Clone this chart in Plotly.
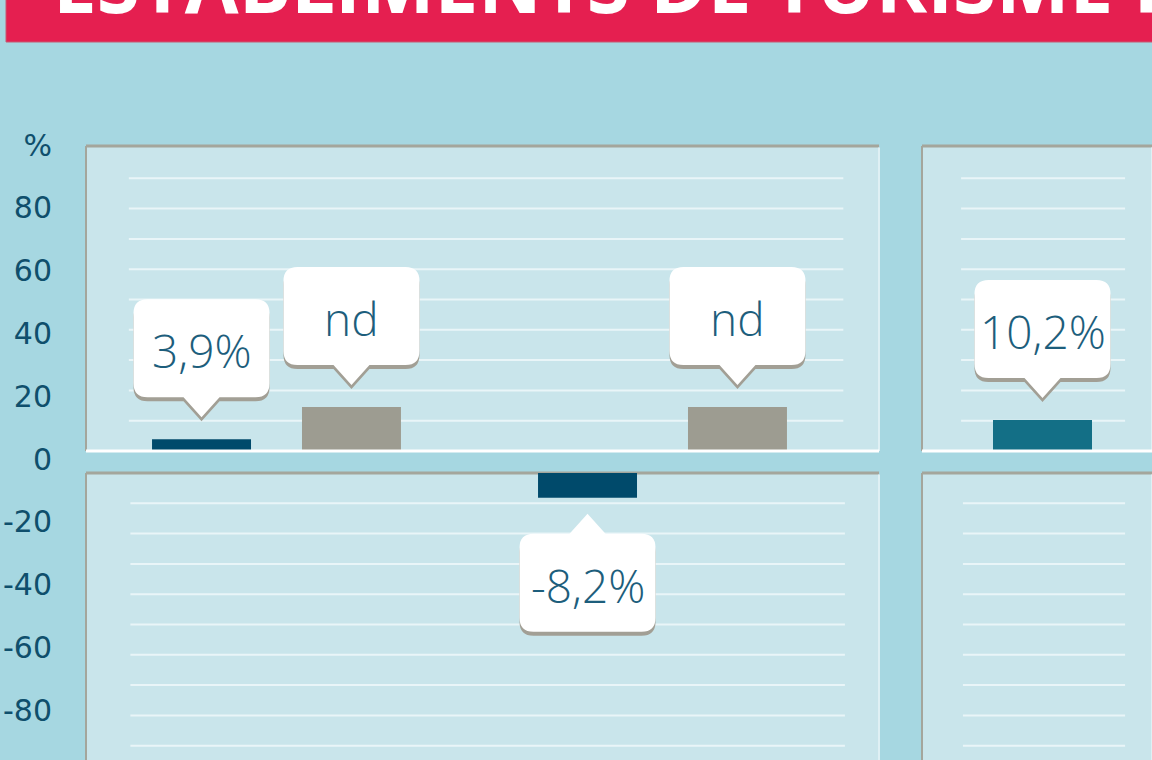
import plotly.graph_objects as go

W, H = 1152, 760

# ---------------- data ----------------
groups = ["Grup A", "Grup B"]
var_values = [3.9, -8.2]
var_labels = ["3,9%", "-8,2%"]
nd_values = [14.5, 14.5]          # placeholder bars for non-available data
nd_labels = ["nd", "nd"]
right_groups = ["Grup C"]
right_values = [10.2]
right_labels = ["10,2%"]
axis_tickvals = [-80, -60, -40, -20, 0, 20, 40, 60, 80, 100]
axis_ticktext = ["-80", "-60", "-40", "-20", "0", "20", "40", "60", "80", "%"]
grid_top = [10, 20, 30, 40, 50, 60, 70, 80, 90]
grid_bottom = [-10, -20, -30, -40, -50, -60, -70, -80, -90]
title_text = "ESTABLIMENTS DE TURISME RURAL"

# ---------------- style ----------------
PAPER = "#a6d7e1"
PANEL = "#c9e5eb"
GRID = "#e9f5f8"
BORDER = "#a4a69c"
DARK = "#004a6b"
GREY = "#9d9c91"
TEAL = "#136f86"
RED = "#e51f50"
TXT = "#0f4f6c"
CALLTXT = "#1d5e7c"
SHADOW = "#a29f95"

def px(v):
    return v / W

def py(v):
    return 1 - v / H

L0, L1 = 86, 879        # left panels
R0, R1 = 922, 1152      # right panels
T0, T1 = 146, 451       # top panels
B0, B1 = 473, 760       # bottom panels
SCALE = 3.03            # px per unit

BARGAP = 0.223
BARGROUPGAP = 0.34
off = (1 - BARGAP) / 4

left_px_unit = 386.0
left_start = -(201.5 + 75 - L0) / left_px_unit
left_range = [left_start, left_start + (L1 - L0) / left_px_unit]
rpu = 99 / ((1 - BARGAP) * (1 - BARGROUPGAP))
right_range = [-(1042.5 - R0) / rpu, (R1 - 1042.5) / rpu]

top_range = [0, (T1 - T0) / SCALE]
bot_range = [-(B1 - B0) / SCALE, 0]

fig = go.Figure()

for xa, ya in (("x", "y"), ("x3", "y3")):
    fig.add_trace(go.Bar(x=groups, y=var_values, marker=dict(color=DARK, line_width=0),
                         xaxis=xa, yaxis=ya, showlegend=False, hoverinfo="skip"))
    fig.add_trace(go.Bar(x=groups, y=nd_values, marker=dict(color=GREY, line_width=0),
                         xaxis=xa, yaxis=ya, showlegend=False, hoverinfo="skip"))
for xa, ya in (("x2", "y2"), ("x4", "y4")):
    fig.add_trace(go.Bar(x=right_groups, y=right_values, marker=dict(color=TEAL, line_width=0),
                         xaxis=xa, yaxis=ya, showlegend=False, hoverinfo="skip"))
# carrier for the label axis
fig.add_trace(go.Scatter(x=[None], y=[None], xaxis="x5", yaxis="y5", showlegend=False,
                         hoverinfo="skip"))

hidden = dict(visible=False, showgrid=False, zeroline=False, fixedrange=True)
fig.update_layout(
    width=W, height=H,
    margin=dict(l=0, r=0, t=0, b=0),
    paper_bgcolor=PAPER, plot_bgcolor="rgba(0,0,0,0)",
    barmode="group", bargap=BARGAP, bargroupgap=BARGROUPGAP,
    xaxis=dict(hidden, domain=[px(L0), px(L1)], anchor="y", type="category", range=left_range),
    yaxis=dict(hidden, domain=[py(T1), py(T0)], anchor="x", range=top_range),
    xaxis2=dict(hidden, domain=[px(R0), px(R1)], anchor="y2", type="category", range=right_range),
    yaxis2=dict(hidden, domain=[py(T1), py(T0)], anchor="x2", range=top_range),
    xaxis3=dict(hidden, domain=[px(L0), px(L1)], anchor="y3", type="category", range=left_range),
    yaxis3=dict(hidden, domain=[py(B1), py(B0)], anchor="x3", range=bot_range),
    xaxis4=dict(hidden, domain=[px(R0), px(R1)], anchor="y4", type="category", range=right_range),
    yaxis4=dict(hidden, domain=[py(B1), py(B0)], anchor="x4", range=bot_range),
    xaxis5=dict(hidden, domain=[px(53), px(57)], anchor="y5", range=[0, 1]),
    yaxis5=dict(domain=[0, 1], anchor="x5", side="left", showgrid=False, zeroline=False,
                showline=False, ticks="", fixedrange=True,
                range=[-(H - 459) / 3.14, 459 / 3.14],
                tickmode="array", tickvals=axis_tickvals, ticktext=axis_ticktext,
                tickfont=dict(family="DejaVu Sans", size=30, color=TXT)),
    font=dict(family="Open Sans"),
)

shapes = []
# title bar
shapes.append(dict(type="rect", xref="paper", yref="paper", x0=px(6), x1=1.02, y0=py(42), y1=1.02,
                   fillcolor=RED, line=dict(color="#c55a72", width=1), layer="below"))

panels = [("x", "y", True), ("x2", "y2", True), ("x3", "y3", False), ("x4", "y4", False)]
grid_x = {"x": (0.054, 0.955), "x3": (0.056, 0.957), "x2": (0.17, 0.883), "x4": (0.178, 0.883)}
for xa, ya, is_top in panels:
    xd, yd = xa + " domain", ya + " domain"
    shapes.append(dict(type="rect", xref=xd, yref=yd, x0=0, x1=1, y0=0, y1=1,
                       fillcolor=PANEL, line_width=0, layer="below"))
    gx0, gx1 = grid_x[xa]
    for g in (grid_top if is_top else grid_bottom):
        shapes.append(dict(type="line", xref=xd, yref=ya, x0=gx0, x1=gx1, y0=g, y1=g,
                           line=dict(color=GRID, width=2), layer="below"))
    # borders
    shapes.append(dict(type="line", xref=xd, yref=yd, x0=0, x1=1, y0=1, y1=1,
                       line=dict(color=BORDER, width=3), layer="below"))
    shapes.append(dict(type="line", xref=xd, yref=yd, x0=0, x1=0, y0=0, y1=1,
                       line=dict(color=BORDER, width=2), layer="below"))
    shapes.append(dict(type="line", xref=xd, yref=yd, x0=1, x1=1, y0=0, y1=0.995,
                       line=dict(color="#dff0f4", width=2), layer="below"))
    if is_top:
        shapes.append(dict(type="line", xref=xd, yref=yd, x0=0, x1=1, y0=0, y1=0,
                           line=dict(color="#ffffff", width=3), layer="above"))


def callout_path(up, gap, dy=0, w=136, h=98, p=20, b=36, r=14):
    s = 1 if up else -1
    y_base = gap + p
    y_top = gap + p + h
    pts = []
    def Y(v):
        return s * v + dy
    pts.append(f"M0,{Y(gap)}")
    pts.append(f"L{-b/2},{Y(y_base)}")
    pts.append(f"L{-w/2 + r},{Y(y_base)}")
    pts.append(f"Q{-w/2},{Y(y_base)} {-w/2},{Y(y_base + r)}")
    pts.append(f"L{-w/2},{Y(y_top - r)}")
    pts.append(f"Q{-w/2},{Y(y_top)} {-w/2 + r},{Y(y_top)}")
    pts.append(f"L{w/2 - r},{Y(y_top)}")
    pts.append(f"Q{w/2},{Y(y_top)} {w/2},{Y(y_top - r)}")
    pts.append(f"L{w/2},{Y(y_base + r)}")
    pts.append(f"Q{w/2},{Y(y_base)} {w/2 - r},{Y(y_base)}")
    pts.append(f"L{b/2},{Y(y_base)}")
    pts.append("Z")
    return " ".join(pts)


annotations = []
callouts = []
for i, v in enumerate(var_values):
    if v >= 0:
        callouts.append(("x", "y", i - off, v, var_labels[i]))
    else:
        callouts.append(("x3", "y3", i - off, v, var_labels[i]))
for i, v in enumerate(nd_values):
    callouts.append(("x", "y", i + off, v, nd_labels[i]))
for i, v in enumerate(right_values):
    callouts.append(("x2", "y2", i, v, right_labels[i]))

for xa, ya, xv, yv, label in callouts:
    up = yv >= 0
    gap = 22 if up else 16
    for dy, col in ((-4, SHADOW), (0, "#ffffff")):
        shapes.append(dict(type="path", xref=xa, yref=ya, xsizemode="pixel", ysizemode="pixel",
                           xanchor=xv, yanchor=yv, path=callout_path(up, gap, dy),
                           fillcolor=col, line_width=0, layer="above"))
    center = gap + 20 + 49
    annotations.append(dict(x=xv, y=yv, xref=xa, yref=ya, text=label, showarrow=False,
                            xanchor="center", yanchor="middle",
                            yshift=(center - 2) if up else -(center + 2),
                            font=dict(family="Open Sans", size=46, color=CALLTXT, weight=300)))

annotations.append(dict(x=px(51), y=1 + 17 / H, xref="paper", yref="paper", text=title_text,
                        showarrow=False, xanchor="left", yanchor="middle",
                        font=dict(family="Open Sans", size=78, color="#ffffff", weight=700)))

fig.update_layout(shapes=shapes, annotations=annotations)
fig.write_html("out.html", config={"displayModeBar": False},
               post_script="document.body.style.margin='0';document.body.style.overflow='hidden';")
